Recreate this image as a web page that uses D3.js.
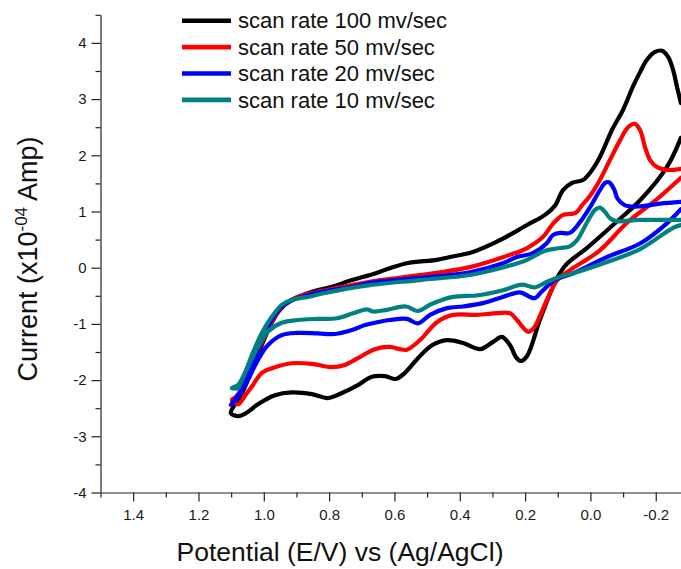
<!DOCTYPE html>
<html>
<head>
<meta charset="utf-8">
<script src="https://cdn.jsdelivr.net/npm/d3@7"></script>
<style>
  html, body { margin: 0; padding: 0; background: #fff; }
  svg { display: block; font-family: Arial, "Liberation Sans", sans-serif; }
</style>
</head>
<body>
<svg id="chart" width="681" height="569"></svg>
<script>
// Cyclic voltammograms: [potential E (V vs Ag/AgCl), current (x10^-4 A)],
// traced along the sweep (anodic branch right-to-left, then cathodic branch back).
const cv100 = [
  [-0.277,2.93],[-0.265,3.22],[-0.253,3.52],[-0.238,3.75],[-0.219,3.86],[-0.198,3.84],[-0.173,3.70],
  [-0.152,3.48],[-0.130,3.22],[-0.100,2.81],[-0.066,2.45],[-0.029,1.97],[0.001,1.69],[0.023,1.56],
  [0.056,1.51],[0.084,1.38],[0.109,1.10],[0.139,0.94],[0.194,0.76],[0.277,0.49],[0.360,0.28],
  [0.430,0.19],[0.470,0.14],[0.562,0.08],[0.614,-0.01],[0.675,-0.13],[0.730,-0.22],[0.792,-0.34],
  [0.853,-0.43],[0.914,-0.57],[0.951,-0.75],[0.975,-0.97],[1.000,-1.29],[1.024,-1.64],[1.049,-2.00],
  [1.070,-2.27],[1.089,-2.44],[1.101,-2.59],[1.079,-2.64],[1.055,-2.59],[1.018,-2.43],[0.966,-2.27],
  [0.914,-2.22],[0.853,-2.25],[0.804,-2.32],[0.761,-2.23],[0.712,-2.09],[0.669,-1.94],[0.629,-1.93],
  [0.596,-1.98],[0.568,-1.87],[0.528,-1.61],[0.485,-1.38],[0.439,-1.29],[0.390,-1.34],[0.338,-1.45],
  [0.298,-1.32],[0.271,-1.23],[0.246,-1.38],[0.228,-1.59],[0.213,-1.66],[0.194,-1.57],[0.155,-0.93],
  [0.115,-0.34],[0.093,-0.09],[0.072,0.07],[0.011,0.35],[-0.069,0.76],[-0.152,1.20],[-0.234,1.79],
  [-0.277,2.31]
];
const cv50 = [
  [-0.277,1.76],[-0.234,1.74],[-0.204,1.79],[-0.182,1.92],[-0.167,2.15],[-0.152,2.45],[-0.136,2.56],
  [-0.115,2.50],[-0.091,2.27],[-0.060,1.92],[-0.029,1.56],[0.001,1.28],[0.023,1.13],[0.047,0.97],
  [0.084,0.94],[0.115,0.78],[0.145,0.55],[0.194,0.35],[0.246,0.23],[0.369,0.01],[0.470,-0.09],
  [0.574,-0.17],[0.675,-0.25],[0.730,-0.31],[0.792,-0.38],[0.853,-0.45],[0.914,-0.57],[0.951,-0.73],
  [0.978,-0.98],[1.003,-1.29],[1.027,-1.61],[1.049,-1.93],[1.070,-2.18],[1.086,-2.30],[1.098,-2.35],
  [1.079,-2.43],[1.058,-2.28],[1.037,-2.12],[1.006,-1.87],[0.966,-1.77],[0.914,-1.70],[0.853,-1.71],
  [0.792,-1.77],[0.752,-1.73],[0.712,-1.61],[0.660,-1.45],[0.614,-1.41],[0.583,-1.45],[0.562,-1.46],
  [0.522,-1.29],[0.470,-0.97],[0.421,-0.84],[0.347,-0.84],[0.286,-0.81],[0.246,-0.81],[0.225,-0.93],
  [0.207,-1.06],[0.191,-1.14],[0.176,-1.09],[0.164,-0.98],[0.133,-0.57],[0.102,-0.22],[0.072,-0.08],
  [-0.029,0.31],[-0.112,0.80],[-0.204,1.22],[-0.277,1.60]
];
const cv20 = [
  [-0.277,1.17],[-0.213,1.14],[-0.152,1.09],[-0.106,1.11],[-0.084,1.22],[-0.072,1.40],[-0.057,1.52],
  [-0.045,1.51],[-0.029,1.38],[0.001,1.08],[0.032,0.81],[0.063,0.62],[0.093,0.62],[0.115,0.58],
  [0.133,0.44],[0.176,0.26],[0.225,0.19],[0.268,0.08],[0.369,-0.08],[0.522,-0.18],[0.675,-0.27],
  [0.730,-0.34],[0.792,-0.40],[0.853,-0.47],[0.914,-0.58],[0.951,-0.72],[0.981,-0.98],[1.006,-1.29],
  [1.027,-1.59],[1.049,-1.91],[1.070,-2.18],[1.089,-2.35],[1.101,-2.44],[1.079,-2.30],[1.049,-2.00],
  [1.018,-1.64],[0.988,-1.38],[0.945,-1.20],[0.896,-1.16],[0.834,-1.17],[0.782,-1.18],[0.730,-1.11],
  [0.690,-1.02],[0.660,-0.98],[0.614,-0.93],[0.562,-0.91],[0.528,-0.99],[0.491,-0.84],[0.439,-0.72],
  [0.390,-0.69],[0.329,-0.63],[0.268,-0.52],[0.216,-0.44],[0.185,-0.52],[0.170,-0.54],[0.145,-0.40],
  [0.109,-0.22],[0.053,-0.10],[-0.051,0.19],[-0.152,0.43],[-0.234,0.79],[-0.277,1.04]
];
const cv10 = [
  [-0.277,0.85],[-0.152,0.85],[-0.078,0.83],[-0.060,0.88],[-0.045,0.99],[-0.029,1.07],[-0.014,1.03],
  [0.011,0.80],[0.041,0.49],[0.063,0.38],[0.093,0.35],[0.133,0.31],[0.155,0.26],[0.194,0.14],
  [0.277,-0.01],[0.369,-0.13],[0.522,-0.22],[0.675,-0.31],[0.730,-0.36],[0.813,-0.45],[0.865,-0.52],
  [0.914,-0.57],[0.945,-0.66],[0.975,-0.87],[1.006,-1.16],[1.034,-1.52],[1.058,-1.87],[1.079,-2.09],
  [1.098,-2.14],[1.079,-2.14],[1.067,-2.00],[1.049,-1.77],[1.018,-1.41],[0.988,-1.14],[0.945,-0.98],
  [0.896,-0.93],[0.834,-0.91],[0.776,-0.90],[0.727,-0.81],[0.684,-0.74],[0.666,-0.78],[0.623,-0.75],
  [0.565,-0.69],[0.528,-0.77],[0.488,-0.65],[0.421,-0.52],[0.344,-0.49],[0.268,-0.40],[0.210,-0.30],
  [0.188,-0.33],[0.170,-0.35],[0.133,-0.25],[0.093,-0.16],[0.053,-0.10],[-0.051,0.10],[-0.152,0.33],
  [-0.253,0.71],[-0.277,0.76]
];

const seriesLabels = ["scan rate 100 mv/sec", "scan rate 50 mv/sec", "scan rate 20 mv/sec", "scan rate 10 mv/sec"];
const seriesData = [cv100, cv50, cv20, cv10];
const seriesColors = ["#000000", "#ff0000", "#0000ff", "#008080"];

const xMajorTicks = [1.4, 1.2, 1.0, 0.8, 0.6, 0.4, 0.2, 0.0, -0.2];
const xMinorTicks = [1.5, 1.3, 1.1, 0.9, 0.7, 0.5, 0.3, 0.1, -0.1];
const yMajorTicks = [-4, -3, -2, -1, 0, 1, 2, 3, 4];
const yMinorTicks = [-3.5, -2.5, -1.5, -0.5, 0.5, 1.5, 2.5, 3.5, 4.5];

const svg = d3.select("#chart");
const plot = { left: 100.5, right: 681, top: 14.8, bottom: 492.5 };

// Potential axis runs from positive (left) to negative (right).
const x = d3.scaleLinear().domain([1.5, -0.2773]).range([plot.left, plot.right]);
const y = d3.scaleLinear().domain([-4, 4.5]).range([plot.bottom, plot.top]);

const fmtX = v => (Math.abs(v) < 1e-9 ? 0 : v).toFixed(1);
const fmtY = v => String(v);

svg.append("defs").append("clipPath").attr("id", "plotClip")
  .append("rect")
  .attr("x", plot.left).attr("y", 0)
  .attr("width", plot.right - plot.left).attr("height", plot.bottom);

// Curves (drawn in legend order so the slowest scan sits on top)
const line = d3.line()
  .x(d => x(d[0]))
  .y(d => y(d[1]))
  .curve(d3.curveCatmullRom.alpha(0.5));

const curves = svg.append("g").attr("clip-path", "url(#plotClip)");
seriesData.forEach((data, i) => {
  curves.append("path")
    .datum(data)
    .attr("d", line)
    .attr("fill", "none")
    .attr("stroke", seriesColors[i])
    .attr("stroke-width", 4.2)
    .attr("stroke-linejoin", "round")
    .attr("stroke-linecap", "round");
});

// Axes
const axisColor = "#222";
function styleAxis(g) {
  g.attr("font-size", 15).attr("font-family", "Arial, 'Liberation Sans', sans-serif");
  g.selectAll("path.domain").attr("stroke", axisColor).attr("stroke-width", 1.2);
  g.selectAll(".tick line").attr("stroke", axisColor).attr("stroke-width", 1.2);
  g.selectAll(".tick text").attr("fill", "#1a1a1a").attr("font-size", 15);
}

const xAxisMinor = svg.append("g").attr("transform", `translate(0,${plot.bottom})`)
  .call(d3.axisBottom(x).tickValues(xMinorTicks).tickSize(5).tickSizeOuter(0).tickFormat(""));
xAxisMinor.select("path.domain").remove();
styleAxis(xAxisMinor);

const xAxis = svg.append("g").attr("transform", `translate(0,${plot.bottom})`)
  .call(d3.axisBottom(x).tickValues(xMajorTicks).tickSize(9).tickSizeOuter(0).tickPadding(8).tickFormat(fmtX));
styleAxis(xAxis);

const yAxisMinor = svg.append("g").attr("transform", `translate(${plot.left},0)`)
  .call(d3.axisLeft(y).tickValues(yMinorTicks).tickSize(5).tickSizeOuter(0).tickFormat(""));
yAxisMinor.select("path.domain").remove();
styleAxis(yAxisMinor);

const yAxis = svg.append("g").attr("transform", `translate(${plot.left},0)`)
  .call(d3.axisLeft(y).tickValues(yMajorTicks).tickSize(9).tickSizeOuter(0).tickPadding(5).tickFormat(fmtY));
styleAxis(yAxis);

// Axis titles
svg.append("text")
  .attr("x", 340).attr("y", 561)
  .attr("text-anchor", "middle")
  .attr("font-size", 26.5)
  .attr("fill", "#111")
  .text("Potential (E/V) vs (Ag/AgCl)");

const yTitle = svg.append("text")
  .attr("transform", "translate(36.5,259) rotate(-90)")
  .attr("text-anchor", "middle")
  .attr("font-size", 27)
  .attr("fill", "#111");
yTitle.append("tspan").text("Current (x10");
yTitle.append("tspan").attr("font-size", 17).attr("dy", -10).text("-04");
yTitle.append("tspan").attr("dy", 10).text(" Amp)");

// Legend
const legend = svg.append("g");
seriesLabels.forEach((label, i) => {
  const ly = 20.7 + i * 26.4;
  legend.append("line")
    .attr("x1", 182).attr("x2", 231).attr("y1", ly).attr("y2", ly)
    .attr("stroke", seriesColors[i]).attr("stroke-width", 4.6);
  legend.append("text")
    .attr("x", 238).attr("y", ly + 7.7)
    .attr("font-size", 22)
    .attr("fill", "#111")
    .text(label);
});
</script>
</body>
</html>
